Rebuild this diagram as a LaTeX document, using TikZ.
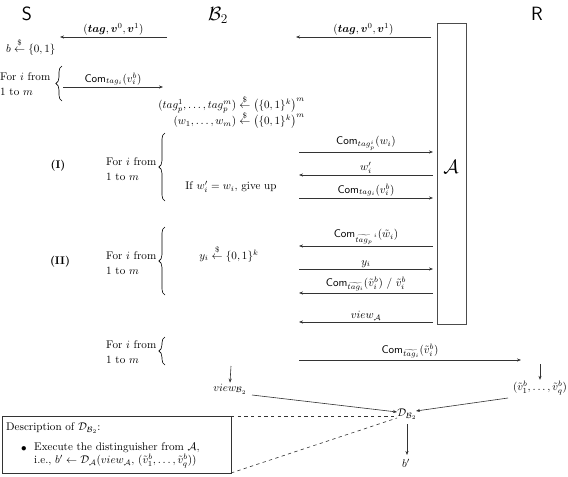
\documentclass[tikz,border=0pt]{standalone}
\usepackage{amsmath,amssymb,bm}
\usetikzlibrary{arrows.meta,decorations.pathreplacing}
\begin{document}
\begin{tikzpicture}[x=0.9pt,y=-0.9pt,
  msg/.style={draw=black!80, line width=0.55pt, -{Stealth[length=3.6pt,width=2.8pt]}},
  lbl/.style={midway, above, inner sep=1.3pt},
  bracestyle/.style={draw=black, line width=0.55pt, decorate, decoration={brace, amplitude=5.5pt}},
  forloop/.style={anchor=west, align=left, inner sep=0pt},
  dashline/.style={draw=black!80, line width=0.55pt, dashed},
  txt/.style={inner sep=0pt}]
\useasboundingbox (0,0) rectangle (568,476);

% titles
\node[txt] (S) at (27,14) {\LARGE\textsf{S}};
\node[txt] (B) at (218,15) {\LARGE$\mathcal{B}_2$};
\node[txt] (R) at (537,14) {\LARGE\textsf{R}};

% adversary box
\coordinate (Atl) at (437,23);
\coordinate (Abr) at (466,324);
\draw[draw=black!70, line width=0.55pt] (Atl) rectangle (Abr);
\node[txt] (Alab) at (451,167) {\LARGE$\mathcal{A}$};

% top arrows
\coordinate (t1s) at (167,37);
\coordinate (t1e) at (60,37);
\draw[msg] (t1s) -- node[lbl] (t1l) {$(\boldsymbol{tag},\boldsymbol{v}^0,\boldsymbol{v}^1)$} (t1e);
\coordinate (t2s) at (431,37);
\coordinate (t2e) at (296,37);
\draw[msg] (t2s) -- node[lbl] (t2l) {$(\boldsymbol{tag},\boldsymbol{v}^0,\boldsymbol{v}^1)$} (t2e);

\node[txt, anchor=west] (bsamp) at (6,47) {$b \stackrel{\$}{\leftarrow} \{0,1\}$};

% first loop
\node[forloop] (f0) at (0,84) {For $i$ from\\[1pt]1 to $m$};
\draw[bracestyle] (62,101) -- (62,66);
\coordinate (c0s) at (63,87);
\coordinate (c0e) at (163,87);
\draw[msg] (c0s) -- node[lbl] (c0l) {$\mathsf{Com}_{tag_i}(v_i^b)$} (c0e);

\node[txt, anchor=east] (tagp) at (305,104) {$(tag_p^1,\ldots,tag_p^m) \stackrel{\$}{\leftarrow} \big(\{0,1\}^k\big)^m$};
\node[txt, anchor=east] (wsamp) at (305,120) {$(w_1,\ldots,w_m) \stackrel{\$}{\leftarrow} \big(\{0,1\}^k\big)^m$};

% phase I
\node[txt] (P1) at (58,166) {\textbf{(I)}};
\node[forloop] (f1) at (106,169) {For $i$ from\\[1pt]1 to $m$};
\draw[bracestyle] (165,201) -- (165,133);
\node[txt] (giveup) at (231,187) {If $w_i' = w_i$, give up};

\coordinate (a1l) at (299,152);
\coordinate (a1r) at (433,152);
\draw[msg] (a1l) -- node[lbl] {$\mathsf{Com}_{tag_p^i}(w_i)$} (a1r);
\coordinate (a2l) at (299,175);
\coordinate (a2r) at (433,175);
\draw[msg] (a2r) -- node[lbl] {$w_i'$} (a2l);
\coordinate (a3l) at (299,198);
\coordinate (a3r) at (433,198);
\draw[msg] (a3l) -- node[lbl] {$\mathsf{Com}_{tag_i}(v_i^b)$} (a3r);

% phase II
\node[txt] (P2) at (60,262) {\textbf{(II)}};
\node[forloop] (f2) at (106,263) {For $i$ from\\[1pt]1 to $m$};
\draw[bracestyle] (165,295) -- (165,227);
\node[txt] (ysamp) at (229,254) {$y_i \stackrel{\$}{\leftarrow} \{0,1\}^k$};

\coordinate (b1l) at (299,246);
\coordinate (b1r) at (433,246);
\draw[msg] (b1r) -- node[lbl] {$\mathsf{Com}_{\widetilde{tag_p}^{\,i}}(\tilde{w}_i)$} (b1l);
\coordinate (b2l) at (299,269);
\coordinate (b2r) at (433,269);
\draw[msg] (b2l) -- node[lbl] {$y_i$} (b2r);
\coordinate (b3l) at (299,293);
\coordinate (b3r) at (433,293);
\draw[msg] (b3r) -- node[lbl] {$\mathsf{Com}_{\widetilde{tag_i}}(\tilde{v}_i^b)\ /\ \tilde{v}_i^b$} (b3l);
\coordinate (b4l) at (299,322);
\coordinate (b4r) at (433,322);
\draw[msg] (b4r) -- node[lbl] {$view_{\mathcal{A}}$} (b4l);

% phase III
\node[forloop] (f3) at (106,352) {For $i$ from\\[1pt]1 to $m$};
\draw[bracestyle] (165,365) -- (165,337);
\coordinate (c3l) at (299,360);
\coordinate (c3r) at (521,360);
\draw[msg] (c3l) -- node[lbl] {$\mathsf{Com}_{\widetilde{tag_i}}(\tilde{v}_i^b)$} (c3r);

% outputs
\node[txt] (vB) at (230,389) {$view_{\mathcal{B}_2}$};
\coordinate (vBtop) at (231,366);
\draw[msg] (vBtop) -- ([yshift=1pt]vB.north);
\node[txt] (vt) at (540,388) {$(\tilde{v}_1^b,\ldots,\tilde{v}_q^b)$};
\coordinate (vttop) at (540,364);
\draw[msg] (vttop) -- ([yshift=1pt]vt.north);

\node[txt] (D) at (407,414) {$\mathcal{D}_{\mathcal{B}_2}$};
\coordinate (vBout) at (252,395);
\coordinate (Din) at (397,412);
\draw[msg] (vBout) -- (Din);
\coordinate (vtout) at (508,398);
\coordinate (Dinr) at (416,411);
\draw[msg] (vtout) -- (Dinr);
\node[txt] (bp) at (406,463) {$b'$};
\coordinate (Dout) at (407,424);
\coordinate (bpin) at (407,455);
\draw[msg] (Dout) -- (bpin);

% description box
\coordinate (dNW) at (2,416);
\coordinate (dSE) at (231,473);
\coordinate (dNE) at (231,416);
\draw[draw=black!80, line width=0.55pt] (dNW) rectangle (dSE);
\node[txt, anchor=west] (dtitle) at (6,428) {Description of $\mathcal{D}_{\mathcal{B}_2}$:};
\node[txt] (bul) at (24,449) {$\bullet$};
\node[txt, anchor=west, align=left] (dtext) at (34,455) {Execute the distinguisher from $\mathcal{A}$,\\i.e., $b' \leftarrow \mathcal{D}_{\mathcal{A}}(view_{\mathcal{A}},\,(\tilde{v}_1^b,\ldots,\tilde{v}_q^b))$};
\coordinate (Dl1) at (397,416);
\coordinate (Dl2) at (397,418);
\draw[dashline] (dNE) -- (Dl1);
\draw[dashline] (dSE) -- (Dl2);
\end{tikzpicture}
\end{document}
